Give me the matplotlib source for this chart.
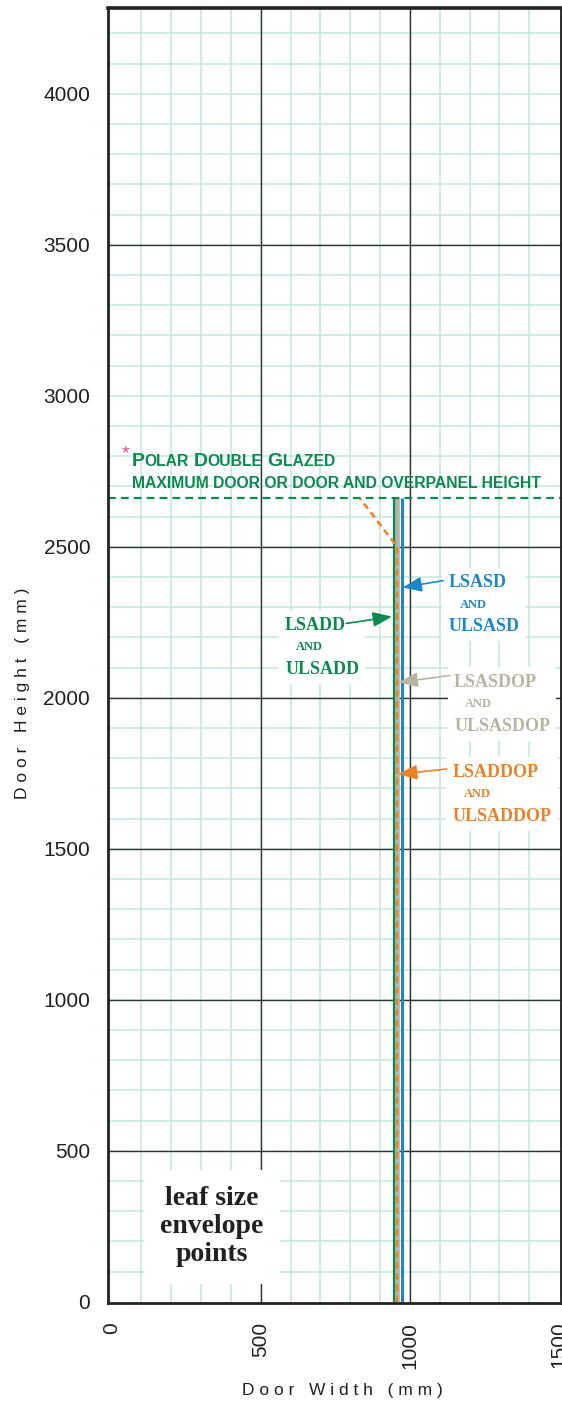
import matplotlib
matplotlib.use('Agg')
import matplotlib.pyplot as plt
from matplotlib.offsetbox import TextArea, HPacker, VPacker, DrawingArea, AnnotationBbox

# leaf size envelope lines (door width mm, door height mm)
lsadd_w = [945, 945]
lsadd_h = [0, 2660]
lsasdop_w = [958, 958]
lsasdop_h = [0, 2660]
lsasd_w = [972, 972]
lsasd_h = [0, 2660]
lsaddop_w = [957, 957, 833]
lsaddop_h = [0, 2500, 2660]
max_height = 2660

x_ticks = [0, 500, 1000, 1500]
y_ticks = [0, 500, 1000, 1500, 2000, 2500, 3000, 3500, 4000]
minor_x = list(range(100, 1500, 100))
minor_y = list(range(100, 4300, 100))
major_x = [500, 1000]
major_y = [500, 1000, 1500, 2000, 2500, 3500]

GREEN = '#0b8a4f'
BLUE = '#1b87c9'
GREY = '#b9b3a2'
ORANGE = '#ea822a'
PINK = '#e8458b'
INK = '#231f20'

plt.rcParams['font.family'] = ['Liberation Sans', 'DejaVu Sans']

fig = plt.figure(figsize=(5.62, 14.07), dpi=100, facecolor='white')
ax = fig.add_axes([107.5 / 562, 1 - 1303 / 1407, (561 - 107.5) / 562, (1303 - 8) / 1407])
ax.set_xlim(-13, 1506)
ax.set_ylim(-4, 4284)

# graph paper
for v in minor_x:
    ax.axvline(v, color='#c4e6e0', lw=1.1, zorder=1)
for v in minor_y:
    ax.axhline(v, color='#c4e6e0', lw=1.1, zorder=1)
for v in major_x:
    ax.axvline(v, color='#333333', lw=1.0, zorder=1.5)
for v in major_y:
    ax.axhline(v, color='#333333', lw=1.0, zorder=1.5)

# envelope lines
ax.plot(lsadd_w, lsadd_h, color=GREEN, lw=2.3, solid_capstyle='butt', zorder=3)
ax.plot(lsasdop_w, lsasdop_h, color=GREY, lw=3.4, solid_capstyle='butt', zorder=3.1)
ax.plot(lsasd_w, lsasd_h, color=BLUE, lw=2.2, solid_capstyle='butt', zorder=3.2)
ax.plot(lsaddop_w, lsaddop_h, color=ORANGE, lw=1.8, dashes=(2.6, 1.8), zorder=3.4)
ax.axhline(max_height, color=GREEN, lw=1.6, dashes=(3.5, 2.3), zorder=3.3)

# axes styling
for side, sp in ax.spines.items():
    sp.set_color('#222222')
    sp.set_linewidth(2.0)
    sp.set_zorder(9)
ax.spines['top'].set_linewidth(2.6)
ax.set_xticks(x_ticks)
ax.set_yticks(y_ticks)
ax.tick_params(length=0, labelsize=15, labelcolor=INK)
ax.tick_params(axis='x', pad=13.5, labelrotation=90)
ax.tick_params(axis='y', pad=12.5)

ax.set_xlabel(' '.join('Door Width (mm)'), fontsize=12.5, color=INK)
ax.xaxis.set_label_coords(0.519, -0.062)
ax.set_ylabel(' '.join('Door Height (mm)'), fontsize=12.5, color=INK)
ax.yaxis.set_label_coords(-0.171, 0.471)

# Polar Double Glazed note
cap_big = dict(family='Liberation Sans', weight='bold', size=14, color=GREEN)
cap_small = dict(family='Liberation Sans', weight='bold', size=11.3, color=GREEN)


def small_caps(word):
    return HPacker(children=[TextArea(word[0], textprops=cap_big),
                             TextArea(word[1:].upper(), textprops=cap_small)],
                   sep=0, pad=0, align='baseline')


line1 = HPacker(children=[small_caps(w) for w in ['Polar', 'Double', 'Glazed']],
                sep=3.5, pad=0, align='baseline')
line2 = TextArea('MAXIMUM DOOR OR DOOR AND OVERPANEL HEIGHT', textprops=cap_small)
note = VPacker(children=[line1, line2], sep=4, pad=0, align='left')
ax.add_artist(AnnotationBbox(note, (68, 2809), box_alignment=(0, 1),
                             frameon=False, pad=0, zorder=6))
ax.text(46, 2792, '*', color=PINK, fontsize=14, ha='center', va='baseline', zorder=6)


def label_group(top, bottom, color, xy):
    big = dict(family='Liberation Serif', weight='bold', size=13, color=color)
    small = dict(family='Liberation Serif', weight='bold', size=9, color=color)
    rows = [TextArea(top, textprops=big),
            HPacker(children=[DrawingArea(8, 1), TextArea('AND', textprops=small)],
                    sep=0, pad=0, align='baseline'),
            TextArea(bottom, textprops=big)]
    box = VPacker(children=rows, sep=5.5, pad=0, align='left')
    ax.add_artist(AnnotationBbox(box, xy, box_alignment=(0, 1), frameon=True, pad=0.45,
                                 bboxprops=dict(facecolor='white', edgecolor='none'),
                                 zorder=6))


def pointer(tail, tip, color):
    ax.annotate('', xy=tip, xytext=tail, zorder=7,
                arrowprops=dict(arrowstyle='-|>,head_length=0.9,head_width=0.35',
                                color=color, lw=1.2, shrinkA=0, shrinkB=0,
                                mutation_scale=13))


label_group('LSADD', 'ULSADD', GREEN, (582, 2268))
label_group('LSASD', 'ULSASD', BLUE, (1129, 2410))
label_group('LSASDOP', 'ULSASDOP', GREY, (1148, 2080))
label_group('LSADDOP', 'ULSADDOP', ORANGE, (1143, 1782))

pointer((786, 2246), (940, 2269), GREEN)
pointer((1111, 2388), (975, 2365), BLUE)
pointer((1134, 2074), (962, 2051), GREY)
pointer((1123, 1764), (960, 1747), ORANGE)

ax.text(337, 249, 'leaf size\nenvelope\npoints', ha='center', va='center',
        family='Liberation Serif', weight='bold', fontsize=20, color=INK,
        linespacing=1.15, zorder=6,
        bbox=dict(boxstyle='square,pad=0.6', facecolor='white', edgecolor='none'))

fig.savefig('out.png', dpi=100, facecolor='white')
